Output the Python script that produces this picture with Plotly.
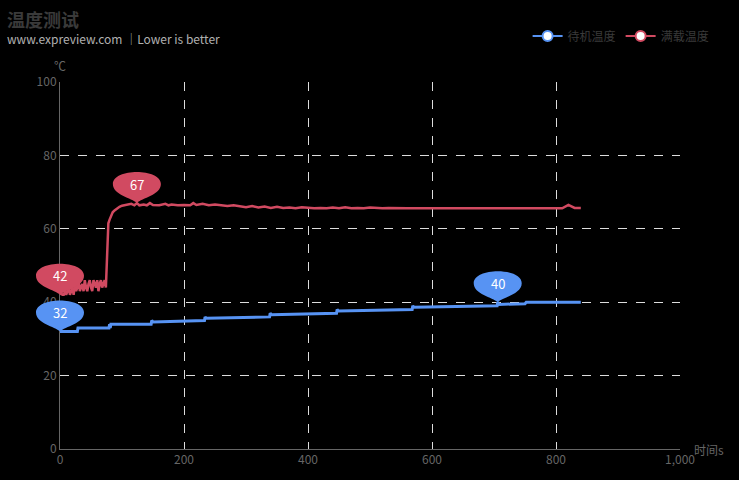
import plotly.graph_objects as go

# standby temperature (stepwise), seconds / degrees C
idle_t = [0, 28, 29, 30, 79, 80, 81, 82, 147, 148, 150, 233, 234, 236,
          338, 339, 341, 446, 447, 449, 568, 569, 571, 705, 706, 708, 750, 752, 840]
idle_v = [32, 32, 33, 33, 33, 34, 33, 34, 34, 35, 34.6, 35, 36, 35.6,
          36, 37, 36.6, 37, 38, 37.6, 38, 39, 38.6, 39, 40, 39.4, 39.6, 40, 40]

# full load temperature
load_t = [0, 2, 4, 6, 8, 10, 12, 14, 16, 18, 20, 22, 24, 26, 28, 30, 32, 34,
          36, 38, 40, 42, 44, 46, 48, 50, 52, 54, 56, 58, 60, 62, 64, 66, 68,
          70, 72, 74, 75, 76, 77, 78, 80, 82, 85, 88, 92, 96, 100, 105, 110,
          115, 120, 124, 128, 135, 140, 145, 150, 160, 170, 175, 180, 190,
          200, 210, 215, 220, 230, 240, 250, 260, 270, 280, 290, 300, 310,
          320, 330, 340, 350, 360, 370, 380, 390, 400, 410, 420, 430, 440,
          450, 460, 470, 480, 490, 500, 510, 520, 530, 540, 550, 560, 570,
          580, 590, 600, 610, 620, 630, 640, 650, 660, 670, 680, 690, 700,
          710, 720, 730, 740, 750, 760, 770, 780, 790, 800, 805, 810, 820,
          830, 835, 840]
load_v = [42, 42.5, 42, 42, 43, 42, 43, 44, 42, 43, 44, 42, 45, 43, 44, 46,
          43, 44, 45, 43, 46, 44, 43, 45, 46, 44, 43, 46, 45, 44, 46, 43, 45,
          46, 44, 45, 46, 44, 48, 55, 60, 61.5, 62.5, 63.5, 64.5, 65, 65.6,
          66, 66.3, 66.4, 66.5, 66.8, 66.4, 67, 66.4, 66.6, 66.4, 67, 66.5,
          66.4, 66.8, 66.4, 66.6, 66.4, 66.5, 66.4, 67, 66.5, 66.8, 66.4,
          66.6, 66.3, 66.2, 66.4, 66.1, 65.9, 66.2, 65.8, 66.1, 65.7, 66,
          65.7, 65.8, 65.6, 65.9, 65.7, 65.6, 65.7, 65.6, 65.8, 65.6, 65.9,
          65.6, 65.7, 65.6, 65.8, 65.6, 65.6, 65.7, 65.6, 65.6, 65.6, 65.6,
          65.6, 65.6, 65.6, 65.6, 65.6, 65.6, 65.6, 65.6, 65.6, 65.6, 65.6,
          65.6, 65.8, 65.6, 65.7, 65.6, 65.8, 65.6, 65.6, 65.6, 65.6, 65.6,
          65.6, 65.6, 65.6, 66.5, 65.7, 65.7, 65.7, 66.6, 66.4]

blue = "#5793f3"
red = "#d14a61"
grey = "#666666"
X_MAX = 1000
Y_MAX = 100

fig = go.Figure()
fig.add_trace(go.Scatter(x=idle_t, y=idle_v, mode="lines", name="待机温度",
                         line=dict(color=blue, width=3), showlegend=False))
fig.add_trace(go.Scatter(x=load_t, y=load_v, mode="lines", name="满载温度",
                         line=dict(color=red, width=2.5), showlegend=False))

# legend entries (line + hollow circle)
for name, c in [("待机温度", blue), ("满载温度", red)]:
    fig.add_trace(go.Scatter(x=[None], y=[None], mode="lines+markers", name=name,
                             line=dict(color=c, width=2),
                             marker=dict(size=10, color="white", line=dict(color=c, width=2))))

# pin markers for max / min (paper refs so they are not clipped at the axis)
pin = "M 0,0 C -5,5 -24,8 -24,19 C -24,27 -12,31 0,31 C 12,31 24,27 24,19 C 24,8 5,5 0,0 Z"
shapes = []
annotations = []
for t_list, v_list, c in [(idle_t, idle_v, blue), (load_t, load_v, red)]:
    for v in (max(v_list), min(v_list)):
        t = t_list[v_list.index(v)]
        shapes.append(dict(type="path", xref="paper", yref="paper", xsizemode="pixel",
                           ysizemode="pixel", xanchor=t / X_MAX, yanchor=v / Y_MAX,
                           path=pin, fillcolor=c, line=dict(width=0), layer="above"))
        annotations.append(dict(x=t, y=v, xref="x", yref="y", text=f"{round(v)}",
                                showarrow=False, yshift=19,
                                font=dict(color="white", size=13)))

annotations += [
    dict(x=-0.089, y=1.212, xref="paper", yref="paper", xanchor="left", yanchor="top",
         text="<b>温度测试</b>", showarrow=False,
         font=dict(size=18, color="#3a3a3a")),
    dict(x=-0.089, y=1.147, xref="paper", yref="paper", xanchor="left", yanchor="top",
         text="www.expreview.com ｜Lower is better", showarrow=False,
         font=dict(size=12, color="#b0b0b0")),
    dict(x=0, y=100, xref="x", yref="y", text="℃", showarrow=False, yshift=17,
         font=dict(size=12, color=grey)),
    dict(x=1000, y=0, xref="x", yref="y", text="时间s", showarrow=False,
         xanchor="left", xshift=12, font=dict(size=12, color=grey)),
]

fig.update_layout(
    width=739, height=480,
    paper_bgcolor="black", plot_bgcolor="black",
    margin=dict(l=60, r=59, t=82, b=31),
    font=dict(family="Noto Sans CJK SC, sans-serif", size=12, color=grey),
    shapes=shapes, annotations=annotations,
    legend=dict(orientation="h", x=0.967, y=0.955, xanchor="right", yanchor="top",
                xref="container", yref="container",
                font=dict(size=12, color="#3a3a3a"),
                bgcolor="rgba(0,0,0,0)"),
)
fig.update_xaxes(range=[0, X_MAX], dtick=200, tickformat=",d",
                 showgrid=True, gridcolor="#dddddd", griddash="dash", gridwidth=1,
                 showline=True, linecolor=grey, zeroline=False,
                 ticks="", tickfont=dict(color=grey))
fig.update_yaxes(range=[0, Y_MAX], dtick=20,
                 showgrid=True, gridcolor="#dddddd", griddash="dash", gridwidth=1,
                 showline=True, linecolor=grey, zeroline=False,
                 ticks="", tickfont=dict(color=grey))

fig.write_html("out.html", config={"displayModeBar": False},
               post_script="document.body.style.margin='0';document.body.style.background='black';")
